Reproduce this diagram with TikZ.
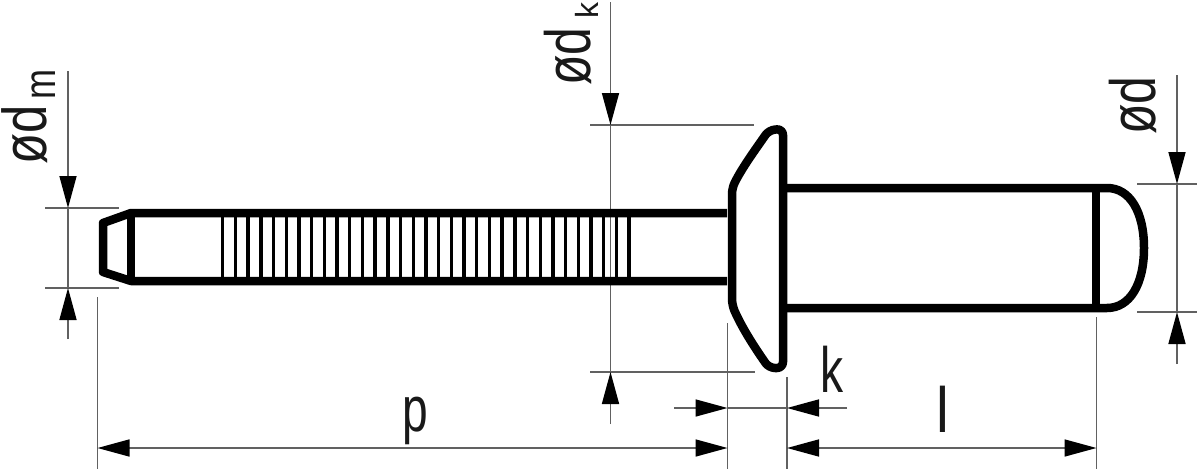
\documentclass[tikz,border=0pt]{standalone}
\usepackage{fontspec}
\setmainfont{Liberation Sans}
\usetikzlibrary{arrows.meta}
\definecolor{dimgrey}{gray}{0.38}
\tikzset{
  x=1pt,y=-1pt,
  part/.style={draw=black,line width=8.5pt,line join=round},
  thread/.style={draw=black,line width=3.4pt},
  dimline/.style={draw=dimgrey,line width=1.6pt},
  tip/.style={-{Triangle[length=32pt,width=17pt,black]},draw=dimgrey,line width=1.6pt},
  twotip/.style={{Triangle[length=32pt,width=17pt,black]}-{Triangle[length=32pt,width=17pt,black]},draw=dimgrey,line width=1.6pt},
  lab/.style={font=\fontsize{64}{64}\selectfont,inner sep=0pt,text=black!90},
  labdm/.style={font=\fontsize{62}{62}\selectfont,inner sep=0pt,text=black!90},
  sublab/.style={font=\fontsize{44}{44}\selectfont,inner sep=0pt,text=black!90},
  subk/.style={font=\fontsize{32}{32}\selectfont,inner sep=0pt,text=black!90},
}
\newcommand{\nar}[1]{\scalebox{0.78}[1]{#1}}
\begin{document}
\begin{tikzpicture}
\useasboundingbox (0,0) rectangle (1200,471);
\fill[white] (0,0) rectangle (1200,471);
% named dimension points
\coordinate (dmT) at (68,71); \coordinate (dmA) at (68,208); \coordinate (dmB) at (68,288); \coordinate (dmE) at (68,339);
\coordinate (dmL1) at (45,208); \coordinate (dmR1) at (119,208); \coordinate (dmL2) at (45,288); \coordinate (dmR2) at (119,288);
\coordinate (dkT) at (610.5,2); \coordinate (dkA) at (610.5,125); \coordinate (dkB) at (610.5,372); \coordinate (dkE) at (610.5,424);
\coordinate (dkL1) at (590,125); \coordinate (dkR1) at (754,125); \coordinate (dkL2) at (590,372); \coordinate (dkR2) at (755,372);
\coordinate (dT) at (1177,75); \coordinate (dA) at (1177,184); \coordinate (dB) at (1177,312); \coordinate (dE) at (1177,364);
\coordinate (dL1) at (1137,184); \coordinate (dR1) at (1197,184); \coordinate (dL2) at (1137,312); \coordinate (dR2) at (1197,312);
\coordinate (pS) at (97.5,297); \coordinate (pE) at (97.5,469);
\coordinate (hS) at (727.5,323); \coordinate (hE) at (727.5,469);
\coordinate (kS) at (787,377); \coordinate (kE) at (787,469);
\coordinate (lS) at (1096.5,317); \coordinate (lE) at (1096.5,469);
\coordinate (k1) at (674,408); \coordinate (k2) at (727.5,408); \coordinate (k3) at (787,408); \coordinate (k4) at (847,408);
\coordinate (p1) at (97.5,448); \coordinate (p2) at (727.5,448); \coordinate (l1) at (787,448); \coordinate (l2) at (1096.5,448);
% extension lines
\foreach \a/\b in {dmL1/dmR1,dmL2/dmR2,dkL1/dkR1,dkL2/dkR2,dL1/dR1,dL2/dR2,pS/pE,hS/hE,kS/kE,lS/lE}
  \draw[dimline] (\a) -- (\b);
% dimension lines
\draw[dimline] (dmA) -- (dmB); \draw[dimline] (dkA) -- (dkB); \draw[dimline] (dA) -- (dB);
\draw[dimline] (k2) -- (k3);
% arrows
\draw[tip] (dmT) -- (dmA); \draw[tip] (dmE) -- (dmB);
\draw[tip] (dkT) -- (dkA); \draw[tip] (dkE) -- (dkB);
\draw[tip] (dT) -- (dA); \draw[tip] (dE) -- (dB);
\draw[tip] (k1) -- (k2); \draw[tip] (k4) -- (k3);
\draw[twotip] (p1) -- (p2); \draw[twotip] (l1) -- (l2);
% hatch of the thread
\foreach \i in {0,...,32}
  \draw[thread] ({222.7+12.7*\i},213) -- ({222.7+12.7*\i},281);
% mandrel
\draw[part] (727,213) -- (131,213) -- (103,223) -- (103,272) -- (131,281) -- (727,281);
\draw[part] (131,213) -- (131,281);
% head
\draw[part,rounded corners=6pt] (732,188) .. controls (742,168) and (755,150) .. (769,130) -- (783,129) -- (783,368) -- (769,368) .. controls (755,348) and (742,328) .. (732,305) -- cycle;
% body
\draw[part] (785,188) -- (1107,188) .. controls (1130,188) and (1144,212) .. (1144,248) .. controls (1144,284) and (1130,308) .. (1107,308) -- (785,308);
\draw[part] (1096,188) -- (1096,308);
% labels
\node[labdm,rotate=90,anchor=base west] (tdm) at (46,165) {\scalebox{0.82}[1]{ød}};
\node[sublab,rotate=90,anchor=base west] (tdms) at (55.5,99.5) {\scalebox{0.82}[1]{m}};
\node[lab,rotate=90,anchor=base west] (tdk) at (590,86) {\nar{ød}};
\node[subk,rotate=90,anchor=base west] (tdks) at (598,18.5) {k};
\node[lab,rotate=90,anchor=base west] (td) at (1155,135) {\nar{ød}};
\node[lab,anchor=base] (tp) at (415,431) {\scalebox{0.72}[1]{p}};
\node[lab,anchor=base] (tk) at (832,392) {\scalebox{0.72}[1]{k}};
\node[lab,anchor=base] (tl) at (943,432) {\scalebox{0.9}[1]{l}};
\end{tikzpicture}
\end{document}
